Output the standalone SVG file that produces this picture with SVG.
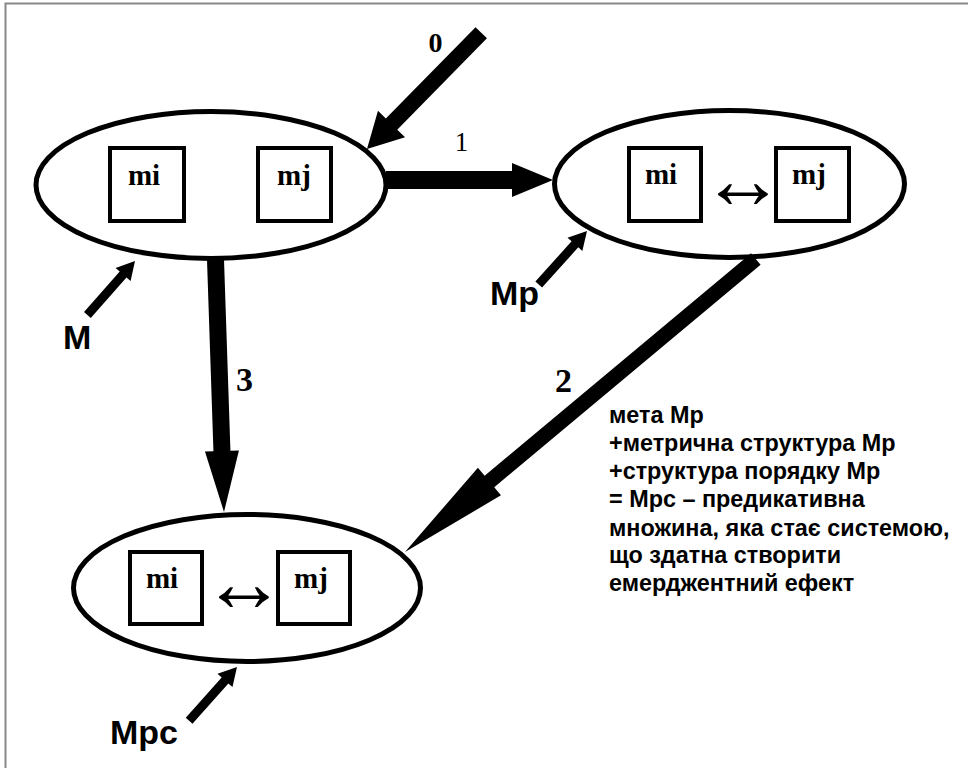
<svg xmlns="http://www.w3.org/2000/svg" width="968" height="768" viewBox="0 0 968 768">
<style>
.ell{fill:#fff;stroke:#000;stroke-width:5}
.box{fill:#fff;stroke:#000;stroke-width:4}
.m{font-family:"Liberation Serif","Times New Roman",serif;font-weight:bold;font-size:29px;text-anchor:middle;fill:#000}
.dbl{font-family:"Liberation Serif","DejaVu Serif",serif;font-size:84px;text-anchor:middle;fill:#000}
.num{font-family:"Liberation Serif","Times New Roman",serif;font-weight:bold;font-size:34px;text-anchor:middle;fill:#000}
.lbl{font-family:"Liberation Sans",Arial,sans-serif;font-weight:bold;font-size:34px;fill:#000}
.note{font-family:"Liberation Sans",Arial,sans-serif;font-weight:bold;font-size:23.4px;fill:#000}
.arr{fill:#000;stroke:none}
</style>
<defs>
<path id="small" d="M-72,-4.5 L-18,-4.5 L-18,-10 L0,0 L-18,10 L-18,4.5 L-72,4.5 Z"/>
</defs>
<rect x="5.5" y="3.5" width="990" height="800" fill="#fff" stroke="#888" stroke-width="2"/>

<g id="node-M">
<ellipse class="ell" cx="211" cy="185" rx="175" ry="73.5"/>
<rect class="box" x="110" y="148" width="74" height="73"/>
<text class="m" x="144" y="185">mi</text>
<rect class="box" x="258" y="148" width="73" height="73"/>
<text class="m" x="294" y="185">mj</text>
</g>

<g id="node-Mp">
<ellipse class="ell" cx="729.5" cy="184" rx="175" ry="73.5"/>
<rect class="box" x="629" y="148" width="72" height="73"/>
<text class="m" x="661" y="184">mi</text>
<rect class="box" x="776" y="148" width="73" height="73"/>
<text class="m" x="809" y="184">mj</text>
<text class="dbl" x="743" y="208">↔</text>
</g>

<g id="node-Mpc">
<ellipse class="ell" cx="247" cy="588" rx="173.5" ry="73.5"/>
<rect class="box" x="130" y="552" width="72" height="72"/>
<text class="m" x="162" y="588">mi</text>
<rect class="box" x="278" y="552" width="72" height="72"/>
<text class="m" x="311" y="588">mj</text>
<text class="dbl" x="244" y="611">↔</text>
</g>

<g id="connectors">
<path class="arr" transform="translate(367,149) rotate(134.5)" d="M-163,-8 L-35,-8 L-35,-19 L0,0 L-35,19 L-35,8 L-163,8 Z"/>
<path class="arr" transform="translate(553,180)" d="M-167,-9 L-41,-9 L-41,-17 L0,0 L-41,17 L-41,9 L-167,9 Z"/>
<path class="arr" transform="translate(224,512) rotate(88.07)" d="M-252,-8.5 L-61,-8.5 L-61,-17 L0,0 L-61,17 L-61,8.5 L-252,8.5 Z"/>
<path class="arr" transform="translate(405,552) rotate(140.14)" d="M-457,-7.5 L-110,-7.5 L-110,-18 L0,0 L-110,18 L-110,7.5 L-457,7.5 Z"/>
<use href="#small" class="arr" transform="translate(135,261) rotate(-48.6)"/>
<use href="#small" class="arr" transform="translate(587,231) rotate(-47.9)"/>
<use href="#small" class="arr" transform="translate(237,667) rotate(-48.3)"/>
</g>

<g id="labels">
<text class="num" x="435.5" y="52" style="font-size:28px">0</text>
<text class="num" x="461.5" y="151" style="font-size:27px;font-weight:normal">1</text>
<text class="num" x="244.5" y="391">3</text>
<text class="num" x="563.5" y="392">2</text>
<text class="lbl" x="63" y="349">M</text>
<text class="lbl" x="490" y="305">Mp</text>
<text class="lbl" x="110" y="744">Mpc</text>
</g>

<g id="note">
<text class="note" x="609" y="423">мета Мр</text>
<text class="note" x="609" y="451">+метрична структура Мр</text>
<text class="note" x="609" y="479">+структура порядку Мр</text>
<text class="note" x="609" y="507">= Мрс – предикативна</text>
<text class="note" x="609" y="535.5">множина, яка стає системою,</text>
<text class="note" x="609" y="563">що здатна створити</text>
<text class="note" x="609" y="591">емерджентний ефект</text>
</g>
</svg>
